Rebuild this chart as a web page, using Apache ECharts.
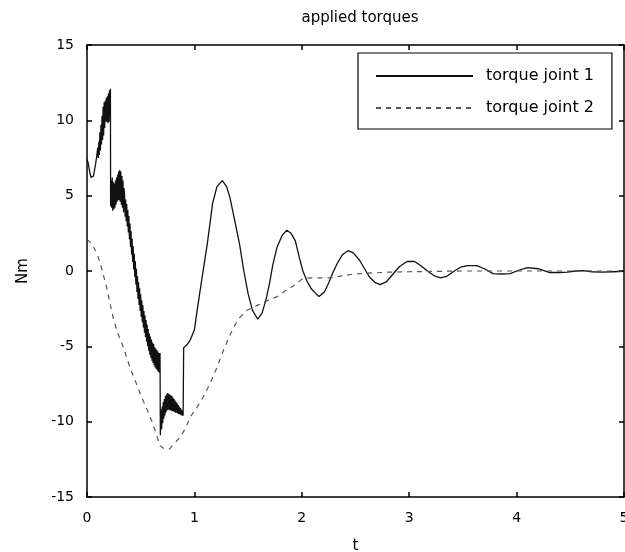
<!DOCTYPE html>
<html>
<head>
<meta charset="utf-8">
<script src="https://cdn.jsdelivr.net/npm/echarts@6/dist/echarts.min.js"></script>
<style>html,body{margin:0;padding:0;background:#fff;overflow:hidden;}#c{width:625px;height:552px;}</style>
</head>
<body>
<div id="c"></div>
<script>
// torque joint 1 (solid): time and value
var time1 = [0.00,0.01,0.02,0.03,0.04,0.05,0.06,0.07,0.08,0.09,
  0.100,0.105,0.110,0.115,0.120,0.125,0.130,0.135,0.140,0.145,0.150,0.155,0.160,0.165,0.170,0.175,0.180,0.185,0.190,0.195,0.200,0.205,0.210,0.215,0.218,
  0.220,0.225,0.230,0.235,0.240,0.245,0.250,0.255,0.260,0.265,0.270,0.275,0.280,0.285,0.290,0.295,0.300,0.305,0.310,0.315,0.320,0.325,0.330,0.335,0.340,0.345,
  0.350,0.355,0.360,0.365,0.370,0.375,0.380,0.385,0.390,0.395,0.400,0.405,0.410,0.415,0.420,0.425,0.430,0.435,0.440,0.445,
  0.450,0.455,0.460,0.465,0.470,0.475,0.480,0.485,0.490,0.495,0.500,0.505,0.510,0.515,0.520,0.525,0.530,0.535,0.540,0.545,
  0.550,0.555,0.560,0.565,0.570,0.575,0.580,0.585,0.590,0.595,0.600,0.605,0.610,0.615,0.620,0.625,0.630,0.635,0.640,0.645,
  0.650,0.655,0.660,0.665,0.670,0.675,0.680,0.683,
  0.685,0.690,0.695,0.700,0.705,0.710,0.715,0.720,0.725,0.730,0.735,0.740,0.745,0.750,0.755,0.760,0.765,0.770,0.775,0.780,
  0.785,0.790,0.795,0.800,0.805,0.810,0.815,0.820,0.825,0.830,0.835,0.840,0.845,0.850,0.855,0.860,0.865,0.870,0.875,0.880,
  0.885,0.890,0.895,
  0.90,0.93,0.96,1.00,1.03,1.07,1.12,1.17,1.21,1.26,1.30,1.33,1.38,1.42,1.46,1.50,1.54,1.59,1.63,1.67,1.70,1.73,1.77,1.82,1.86,1.90,1.94,1.98,
  2.01,2.05,2.09,2.16,2.21,2.25,2.29,2.33,2.38,2.43,2.48,2.54,2.58,2.63,2.68,2.73,2.79,2.85,2.91,2.98,
  3.05,3.11,3.17,3.23,3.29,3.35,3.42,3.48,3.54,3.63,3.70,3.78,3.86,3.94,
  4.02,4.10,4.20,4.31,4.40,4.47,4.55,4.62,4.70,4.80,4.90,5.00];
var torque1 = [7.4,7.2,6.8,6.4,6.2,6.1,6.3,6.7,7.1,7.6,
  8.2,7.5,8.6,7.7,9.2,8.0,9.7,8.4,10.3,8.7,10.9,9.0,11.2,9.5,11.3,9.9,11.5,9.9,11.6,9.8,11.8,9.9,12.0,10.2,12.1,
  4.3,6.0,4.2,6.2,4.0,5.9,4.1,5.8,4.2,6.0,4.4,6.2,4.6,6.4,4.7,6.6,4.7,6.7,4.6,6.6,4.4,6.3,4.2,6.0,3.9,5.5,
  5.05,3.6,4.75,3.3,4.45,2.95,4.05,2.55,3.65,2.1,3.15,1.6,2.65,1.1,2.15,0.6,1.65,0.1,1.15,-0.4,
  0.65,-0.9,0.15,-1.4,-0.35,-1.85,-0.75,-2.25,-1.15,-2.65,-1.55,-3.05,-1.95,-3.4,-2.25,-3.75,-2.65,-4.1,-2.95,-4.4,
  -3.25,-4.7,-3.55,-5.0,-3.85,-5.3,-4.15,-5.55,-4.35,-5.75,-4.55,-5.95,-4.75,-6.1,-4.85,-6.25,-5.05,-6.4,-5.15,-6.5,
  -5.25,-6.6,-5.35,-6.7,-5.45,-6.75,-5.45,-10.9,
  -10.9,-9.2,-10.5,-9.0,-10.1,-8.7,-9.8,-8.5,-9.6,-8.3,-9.4,-8.2,-9.25,-8.1,-9.2,-8.15,-9.2,-8.2,-9.25,-8.25,
  -9.25,-8.3,-9.3,-8.4,-9.3,-8.5,-9.35,-8.6,-9.4,-8.7,-9.4,-8.8,-9.45,-8.9,-9.5,-9.0,-9.5,-9.1,-9.55,-9.2,
  -9.6,-9.3,-9.6,
  -5.1,-4.9,-4.6,-3.9,-2.4,-0.5,1.8,4.5,5.6,6.0,5.6,4.9,3.2,1.8,0.0,-1.5,-2.6,-3.2,-2.8,-1.8,-0.8,0.4,1.6,2.4,2.7,2.5,2.0,0.8,
  0.0,-0.7,-1.2,-1.7,-1.4,-0.8,-0.1,0.5,1.1,1.35,1.2,0.7,0.2,-0.4,-0.75,-0.9,-0.7,-0.2,0.3,0.63,
  0.63,0.35,0.0,-0.3,-0.45,-0.35,0.0,0.25,0.36,0.36,0.15,-0.17,-0.2,-0.17,
  0.05,0.23,0.15,-0.1,-0.1,-0.08,0.0,0.03,-0.05,-0.08,-0.05,-0.02];

// torque joint 2 (dashed): time and value
var time2 = [0.00,0.03,0.06,0.09,0.12,0.15,0.18,0.21,0.24,0.28,0.34,0.40,0.45,0.51,0.56,0.60,0.64,0.68,0.72,0.77,
  0.82,0.87,0.92,0.96,1.02,1.08,1.15,1.21,1.28,1.36,1.42,1.49,1.58,1.67,1.77,1.85,1.92,2.01,2.10,2.26,
  2.40,2.48,2.60,2.80,3.00,3.50,4.00,5.00];
var torque2 = [2.1,1.9,1.6,1.2,0.6,-0.2,-1.0,-2.0,-3.0,-4.0,-5.1,-6.4,-7.3,-8.4,-9.2,-9.9,-10.7,-11.6,-11.8,-11.8,
  -11.4,-11.0,-10.4,-9.7,-9.1,-8.4,-7.4,-6.4,-5.1,-3.8,-3.1,-2.6,-2.3,-2.0,-1.7,-1.3,-1.0,-0.5,-0.45,-0.45,
  -0.3,-0.2,-0.15,-0.08,-0.05,0.0,0.0,0.0];

var xTicks = [0,1,2,3,4,5];
var yTicks = [-15,-10,-5,0,5,10,15];
var seriesNames = ['torque joint 1','torque joint 2'];

function pairs(t, v) { var out = []; for (var i = 0; i < t.length; i++) out.push([t[i], v[i]]); return out; }

var FONT = 'DejaVu Sans';
var chart = echarts.init(document.getElementById('c'), null, {renderer: 'canvas'});
function axisBase() {
  return {
    type: 'value',
    axisLine: {show: true, onZero: false, lineStyle: {color: '#000', width: 1.5}},
    axisTick: {show: true, inside: true, length: 5, lineStyle: {color: '#000', width: 1.5}},
    splitLine: {show: false}
  };
}
chart.setOption({
  animation: false,
  backgroundColor: '#fff',
  title: {
    text: 'applied torques',
    left: 355, top: 6, textAlign: 'center',
    textStyle: {fontFamily: FONT, fontSize: 15, fontWeight: 'normal', color: '#000'}
  },
  grid: {left: 87, right: 1, top: 45, bottom: 55, containLabel: false, outerBoundsMode: 'none'},
  legend: {
    orient: 'vertical',
    left: 358, top: 53,
    padding: [15, 18, 13, 17],
    itemWidth: 97, itemHeight: 14, itemGap: 16,
    backgroundColor: '#fff',
    borderColor: '#000', borderWidth: 1.2,
    itemStyle: {opacity: 0},
    textStyle: {fontFamily: FONT, fontSize: 16, color: '#000', padding: [0, 0, 0, 8]},
    data: seriesNames
  },
  xAxis: [
    Object.assign(axisBase(), {
      min: xTicks[0], max: xTicks[xTicks.length - 1], interval: 1,
      position: 'bottom',
      name: 't', nameLocation: 'middle', nameGap: 42,
      nameTextStyle: {fontFamily: FONT, fontSize: 15, color: '#000'},
      axisLabel: {fontFamily: FONT, fontSize: 14, color: '#000', margin: 14}
    }),
    Object.assign(axisBase(), {
      min: xTicks[0], max: xTicks[xTicks.length - 1], interval: 1,
      position: 'top', axisLabel: {show: false}
    })
  ],
  yAxis: [
    Object.assign(axisBase(), {
      min: yTicks[0], max: yTicks[yTicks.length - 1], interval: 5,
      position: 'left',
      name: 'Nm', nameLocation: 'middle', nameGap: 56,
      nameTextStyle: {fontFamily: FONT, fontSize: 15, color: '#000'},
      axisLabel: {fontFamily: FONT, fontSize: 14, color: '#000', margin: 13}
    }),
    Object.assign(axisBase(), {
      min: yTicks[0], max: yTicks[yTicks.length - 1], interval: 5,
      position: 'right', axisLabel: {show: false}
    })
  ],
  series: [
    {
      name: seriesNames[0], type: 'line', xAxisIndex: 0, yAxisIndex: 0,
      data: pairs(time1, torque1), symbol: 'none', smooth: false,
      lineStyle: {color: '#111', width: 1.3}, itemStyle: {color: '#111'}
    },
    {
      name: seriesNames[1], type: 'line', xAxisIndex: 0, yAxisIndex: 0,
      data: pairs(time2, torque2), symbol: 'none', smooth: false,
      lineStyle: {color: '#555', width: 1.2, type: [5, 5]}, itemStyle: {color: '#555'}
    }
  ]
});
</script>
</body>
</html>
